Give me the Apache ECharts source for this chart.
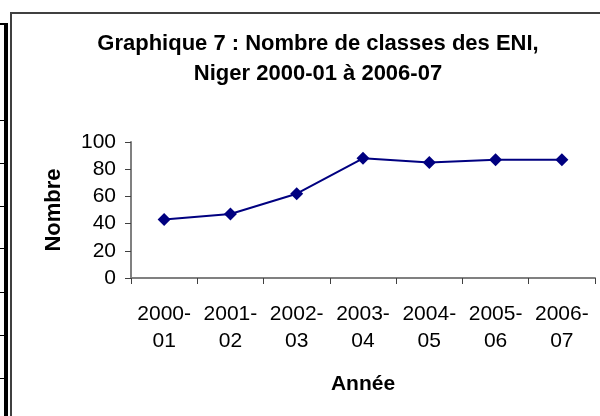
<!DOCTYPE html>
<html>
<head>
<meta charset="utf-8">
<script src="https://cdn.jsdelivr.net/npm/echarts@6/dist/echarts.min.js"></script>
<style>
html, body { margin: 0; padding: 0; background: #fff; }
#chart { width: 600px; height: 416px; }
</style>
</head>
<body>
<div id="chart"></div>
<script>
var annees = ['2000-\n01', '2001-\n02', '2002-\n03', '2003-\n04', '2004-\n05', '2005-\n06', '2006-\n07'];
var nombre = [43, 47, 62, 88, 85, 87, 87];
var yTicks = [0, 20, 40, 60, 80, 100];

var myChart = echarts.init(document.getElementById('chart'));
var font = 'Liberation Sans, Arial, sans-serif';

// bits of the neighbouring table on the left edge
var tableLines = [120, 163, 206, 248, 292, 335, 378];
var graphics = [
    { type: 'rect', shape: { x: 11, y: 13, width: 620, height: 430 }, style: { fill: 'none', stroke: '#404040', lineWidth: 2 } },
    { type: 'rect', shape: { x: 4, y: 24, width: 4, height: 400 }, style: { fill: '#000' } },
    { type: 'rect', shape: { x: 0, y: 23, width: 8, height: 2 }, style: { fill: '#000' } }
];
tableLines.forEach(function(y) {
    graphics.push({ type: 'rect', shape: { x: 0, y: y, width: 5, height: 1 }, style: { fill: '#000' } });
});

var option = {
    backgroundColor: '#fff',
    animation: false,
    title: {
        text: 'Graphique 7 : Nombre de classes des ENI,\nNiger 2000-01 à 2006-07',
        left: 313,
        top: 24,
        textAlign: 'center',
        textStyle: {
            fontFamily: font,
            fontSize: 22,
            fontWeight: 'bold',
            color: '#000',
            lineHeight: 30
        }
    },
    graphic: graphics,
    grid: {
        left: 131,
        right: 5,
        top: 142,
        bottom: 138
    },
    xAxis: {
        type: 'category',
        data: annees,
        name: 'Année',
        nameLocation: 'middle',
        nameGap: 96,
        nameTextStyle: { fontFamily: font, fontSize: 21, fontWeight: 'bold', color: '#000' },
        axisLine: { lineStyle: { color: '#808080', width: 2 } },
        axisTick: { show: true, interval: 0, length: 6, lineStyle: { color: '#404040' } },
        axisLabel: { interval: 0, fontFamily: font, fontSize: 21, color: '#000', lineHeight: 27, margin: 23 }
    },
    yAxis: {
        type: 'value',
        min: yTicks[0],
        max: yTicks[yTicks.length - 1],
        interval: 20,
        name: 'Nombre',
        nameLocation: 'middle',
        nameGap: 66,
        nameRotate: 90,
        nameTextStyle: { fontFamily: font, fontSize: 22, fontWeight: 'bold', color: '#000' },
        splitLine: { show: false },
        axisLine: { show: true, lineStyle: { color: '#808080', width: 2 } },
        axisTick: { show: true, length: 6, lineStyle: { color: '#404040' } },
        axisLabel: { fontFamily: font, fontSize: 21, color: '#000', margin: 15 }
    },
    series: [{
        name: 'Nombre',
        type: 'line',
        data: nombre,
        symbol: 'diamond',
        symbolSize: 13,
        lineStyle: { color: '#000080', width: 2 },
        itemStyle: { color: '#000080' }
    }]
};
myChart.setOption(option);
</script>
</body>
</html>
